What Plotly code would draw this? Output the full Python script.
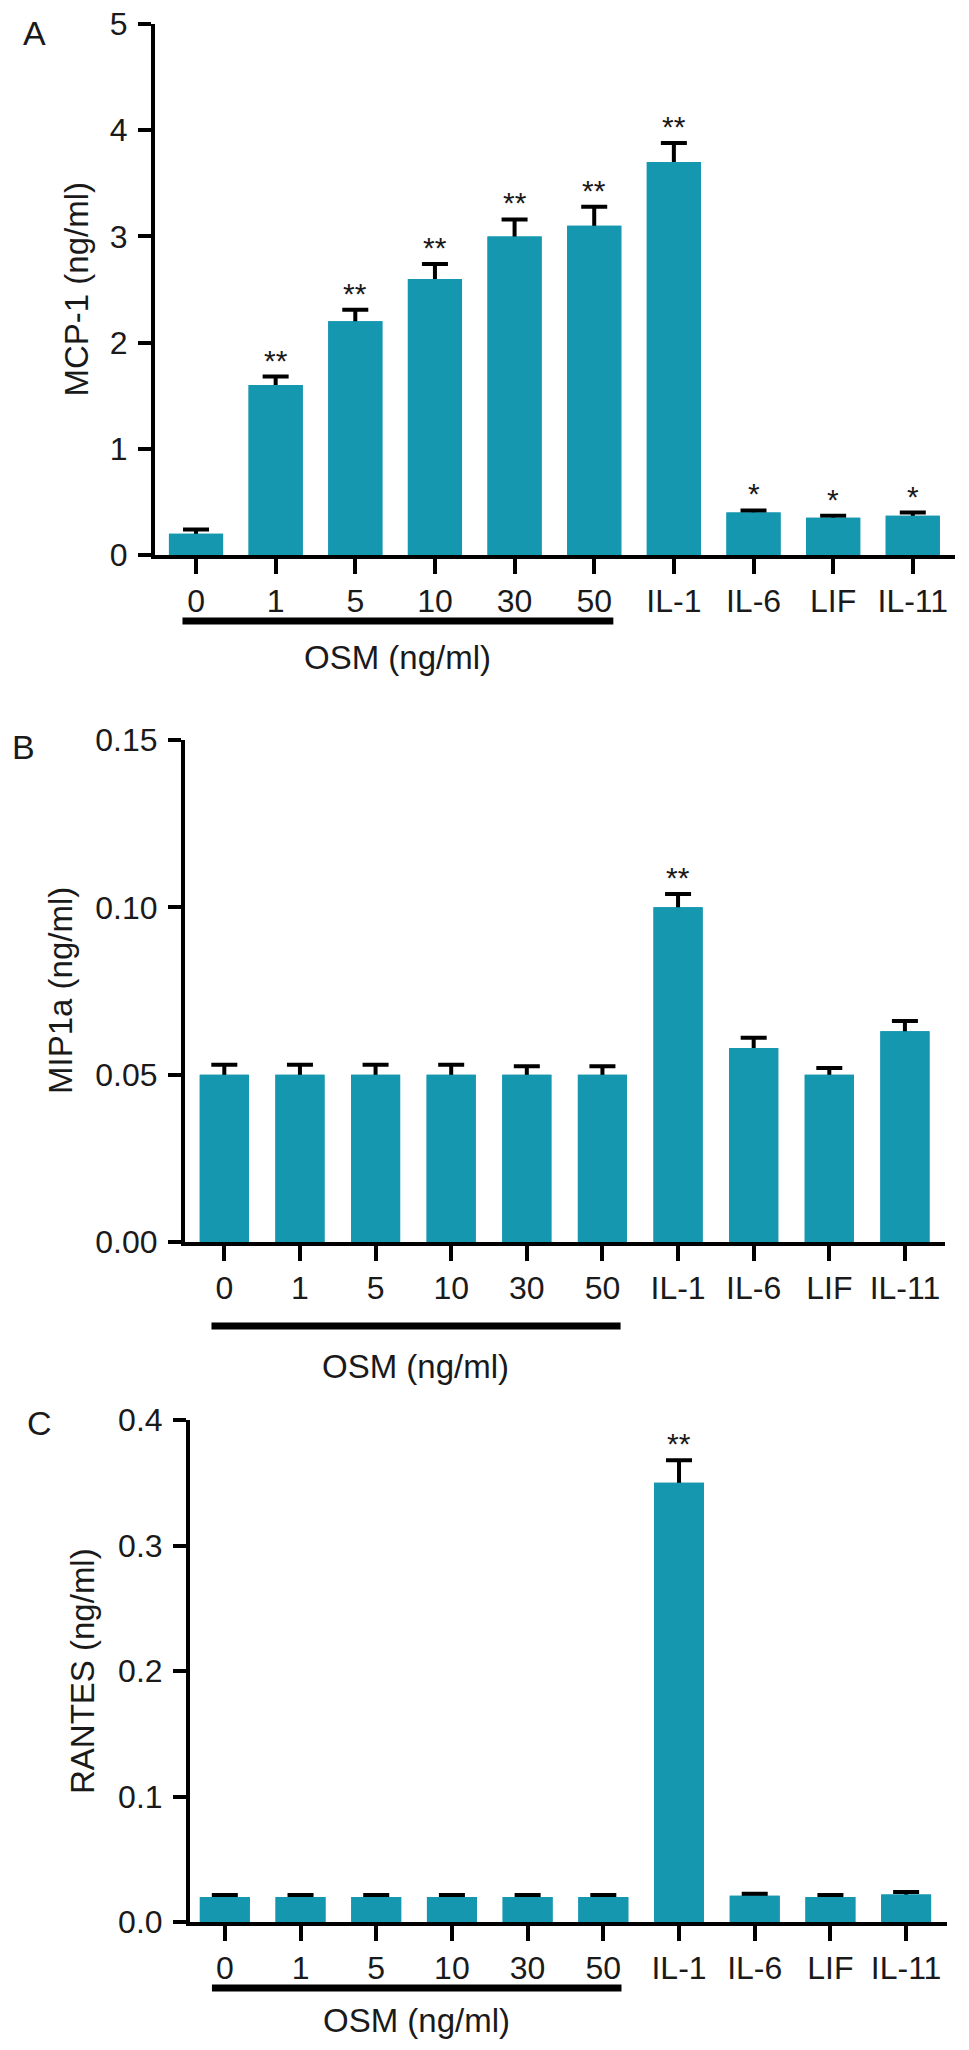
import plotly.graph_objects as go

# Data
categories = ["0", "1", "5", "10", "30", "50", "IL-1", "IL-6", "LIF", "IL-11"]

mcp1 = [0.20, 1.60, 2.20, 2.60, 3.00, 3.10, 3.70, 0.40, 0.35, 0.37]
mcp1_err = [0.04, 0.08, 0.11, 0.14, 0.16, 0.18, 0.18, 0.02, 0.02, 0.03]
mcp1_sig = ["", "**", "**", "**", "**", "**", "**", "*", "*", "*"]

mip1a = [0.050, 0.050, 0.050, 0.050, 0.050, 0.050, 0.100, 0.058, 0.050, 0.063]
mip1a_err = [0.003, 0.003, 0.003, 0.003, 0.0025, 0.0025, 0.004, 0.003, 0.002, 0.003]
mip1a_sig = ["", "", "", "", "", "", "**", "", "", ""]

rantes = [0.020, 0.020, 0.020, 0.020, 0.020, 0.020, 0.350, 0.021, 0.020, 0.022]
rantes_err = [0.0015, 0.0015, 0.0015, 0.0015, 0.0015, 0.0015, 0.018, 0.0015, 0.0015, 0.002]
rantes_sig = ["", "", "", "", "", "", "**", "", "", ""]

# the page body has an 8px margin, so the figure is drawn a bit smaller
OFF = 8
W, H = 969 - OFF, 2050 - OFF
BAR = "#1597b0"
INK = "#1a1a1a"
FONT = "Liberation Sans, Arial, sans-serif"


def px_x(v):
    return (v - OFF) / W


def px_y(v):
    return 1 - (v - OFF) / H


# panel layout (pixel positions in the reference)
panels = [
    dict(letter="A", title="MCP-1 (ng/ml)", y=mcp1, err=mcp1_err, sig=mcp1_sig,
         left=155, right=955, top=24, bottom=555, yrange=[0, 5], dtick=1, fmt="",
         xrange=[-0.515, 9.53], width=0.68, title_x=76, letter_xy=(34, 33),
         line_y=621, osm_y=657),
    dict(letter="B", title="MIP1a (ng/ml)", y=mip1a, err=mip1a_err, sig=mip1a_sig,
         left=185, right=945, top=740, bottom=1242, yrange=[0, 0.15], dtick=0.05, fmt=".2f",
         xrange=[-0.52, 9.53], width=0.65, title_x=60, letter_xy=(23, 747),
         line_y=1326, osm_y=1366),
    dict(letter="C", title="RANTES (ng/ml)", y=rantes, err=rantes_err, sig=rantes_sig,
         left=190, right=947, top=1420, bottom=1922, yrange=[0, 0.4], dtick=0.1, fmt=".1f",
         xrange=[-0.46, 9.54], width=0.66, title_x=82, letter_xy=(39, 1423),
         line_y=1988, osm_y=2020),
]

fig = go.Figure()
annotations = []
shapes = []

for i, p in enumerate(panels, start=1):
    xa = "x" if i == 1 else f"x{i}"
    ya = "y" if i == 1 else f"y{i}"

    # bars carrying the error bars (lower half gets hidden by the copy drawn above)
    fig.add_trace(go.Bar(
        x=categories, y=p["y"], xaxis=xa, yaxis=ya, width=p["width"],
        marker=dict(color=BAR, line=dict(width=0)),
        error_y=dict(type="data", array=p["err"], visible=True,
                     color="black", thickness=4, width=13),
        showlegend=False,
    ))
    fig.add_trace(go.Bar(
        x=categories, y=p["y"], xaxis=xa, yaxis=ya, width=p["width"],
        marker=dict(color=BAR, line=dict(width=0)),
        showlegend=False,
    ))

    axis_common = dict(
        showline=True, linecolor="black", linewidth=4,
        ticks="outside", tickcolor="black", tickwidth=4,
        showgrid=False, zeroline=False, automargin=False,
        ticklabeloverflow="allow",
        tickfont=dict(family=FONT, size=32, color=INK),
    )
    fig.update_layout({
        ("xaxis" if i == 1 else f"xaxis{i}"): dict(
            axis_common, type="category", range=p["xrange"], ticklen=15,
            domain=[px_x(p["left"]), px_x(p["right"])], anchor=ya,
        ),
        ("yaxis" if i == 1 else f"yaxis{i}"): dict(
            axis_common, range=p["yrange"], dtick=p["dtick"], tick0=0,
            tickformat=p["fmt"], ticklen=13, ticklabelstandoff=4,
            domain=[px_y(p["bottom"]), px_y(p["top"])], anchor=xa,
        ),
    })

    # significance marks above error caps
    for k, (v, e, s) in enumerate(zip(p["y"], p["err"], p["sig"])):
        if s:
            annotations.append(dict(
                x=k, y=v + e, xref=xa, yref=ya, text=s, showarrow=False,
                yanchor="bottom", yshift=-2,
                font=dict(family=FONT, size=30, color=INK),
            ))

    # panel letter and y title
    annotations.append(dict(
        x=px_x(p["letter_xy"][0]), y=px_y(p["letter_xy"][1]), xref="paper", yref="paper",
        text=p["letter"], showarrow=False, xanchor="center", yanchor="middle",
        font=dict(family=FONT, size=34, color=INK),
    ))
    annotations.append(dict(
        x=px_x(p["title_x"]), y=px_y((p["top"] + p["bottom"]) / 2), xref="paper", yref="paper",
        text=p["title"], textangle=-90, showarrow=False, xanchor="center", yanchor="middle",
        font=dict(family=FONT, size=33, color=INK),
    ))

    # OSM group bar and label
    shapes.append(dict(
        type="line", xref=xa, yref="paper", x0=-0.17, x1=5.24,
        y0=px_y(p["line_y"]), y1=px_y(p["line_y"]),
        line=dict(color="black", width=7),
    ))
    annotations.append(dict(
        x=2.53, y=px_y(p["osm_y"]), xref=xa, yref="paper",
        text="OSM (ng/ml)", showarrow=False, xanchor="center", yanchor="middle",
        font=dict(family=FONT, size=33, color=INK),
    ))

fig.update_layout(
    template="none",
    width=W, height=H,
    margin=dict(l=0, r=0, t=0, b=0, autoexpand=False),
    barmode="overlay",
    plot_bgcolor="white",
    paper_bgcolor="white",
    annotations=annotations,
    shapes=shapes,
    showlegend=False,
)

fig.write_html("out.html")
